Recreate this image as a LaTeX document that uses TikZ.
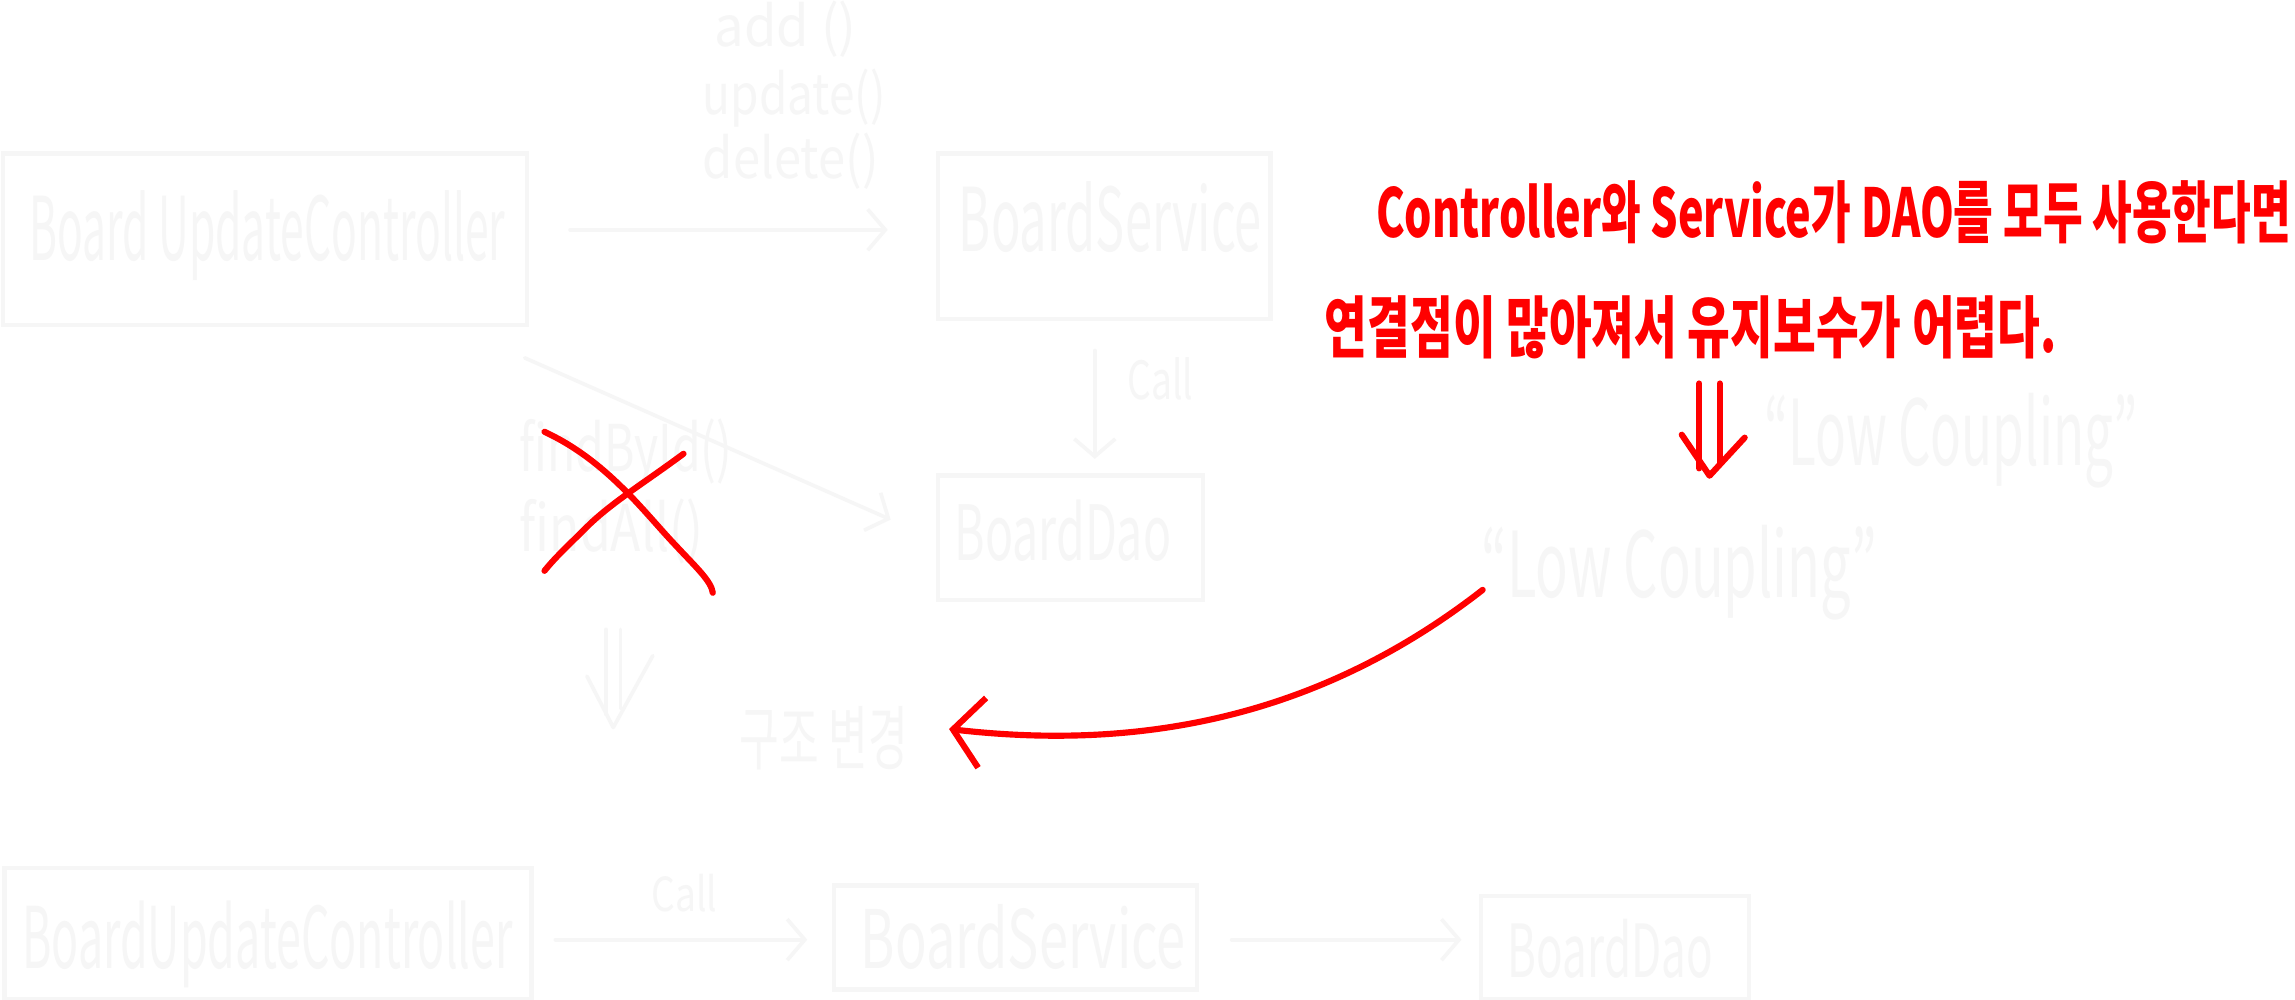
\documentclass[tikz,border=0pt]{standalone}
\usepackage{fontspec}
\setmainfont{Noto Sans CJK KR}
\usetikzlibrary{arrows.meta}
\definecolor{faint}{HTML}{F6F6F6}
\definecolor{pen}{HTML}{FF0000}
\newcommand\fw[2]{\resizebox{#1pt}{\height}{#2}}
\tikzset{
  fbox/.style={draw=faint, line width=3pt, inner sep=0pt},
  ftext/.style={text=faint, inner sep=0pt, anchor=base west},
  farrow/.style={draw=faint, line width=2.5pt, line cap=round,
    -{Straight Barb[length=12pt,width=28pt,line width=2.5pt]}},
  fline/.style={draw=faint, line width=2.5pt, line cap=round, line join=round},
  redpen/.style={draw=pen, line width=4.2pt, line cap=round, line join=round},
  redtext/.style={text=pen, inner sep=0pt, anchor=base west, font=\fontsize{46}{50}\selectfont\bfseries},
}
\begin{document}
\begin{tikzpicture}[x=1pt,y=-1pt]
\useasboundingbox[fill=white] (0,0) rectangle (1568,683);

% ---- faint upper diagram ----
\node[ftext, font=\fontsize{38}{40}\selectfont] (m1) at (488,32) {\fw{97}{add ()}};
\node[ftext, font=\fontsize{38}{40}\selectfont] (m2) at (480,78) {\fw{125}{update()}};
\node[ftext, font=\fontsize{38}{40}\selectfont] (m3) at (480,122) {\fw{120}{delete()}};

\node[fbox, minimum width=358pt, minimum height=117pt] (c1) at (181,163.5) {};
\node[ftext, font=\fontsize{60}{64}\selectfont] (c1t) at (20,178) {\fw{325}{Board UpdateController}};

\node[fbox, minimum width=227pt, minimum height=113pt] (s1) at (754.5,161.5) {};
\node[ftext, font=\fontsize{60}{64}\selectfont] (s1t) at (655,172) {\fw{207}{BoardService}};

\node[fbox, minimum width=181pt, minimum height=85pt] (d1) at (731.5,367.5) {};
\node[ftext, font=\fontsize{52}{56}\selectfont] (d1t) at (652,383) {\fw{148}{BoardDao}};

\draw[farrow] ([shift={(28,-6.5)}]c1.east) -- ([shift={(-33,-4.5)}]s1.west);
\draw[farrow] ([shift={(-6.5,20)}]s1.south) -- ([shift={(16.5,-10)}]d1.north);
\node[ftext, font=\fontsize{36}{40}\selectfont] (call1) at (770,273) {\fw{45}{Call}};
\draw[farrow] ([shift={(-3,21)}]c1.south east) -- ([shift={(-31,-12.5)}]d1.west);

\node[ftext, font=\fontsize{44}{48}\selectfont] (f1) at (355,322) {\fw{145}{findById()}};
\node[ftext, font=\fontsize{44}{48}\selectfont] (f2) at (355,377) {\fw{125}{findAll()}};

% faint double arrow
\draw[fline] (414,430) -- (414,488);
\draw[fline] (424,430) -- (424,484);
\draw[fline] (401,462) -- (419,497) -- (446,448);

\node[ftext, font=\fontsize{48}{52}\selectfont] (gj) at (505,522) {\fw{115}{구조 변경}};

\node[ftext, font=\fontsize{62}{66}\selectfont] (lc1) at (1205,318) {\fw{255}{“Low Coupling”}};
\node[ftext, font=\fontsize{62}{66}\selectfont] (lc2) at (1012,408) {\fw{270}{“Low Coupling”}};

% ---- faint lower diagram ----
\node[fbox, minimum width=360pt, minimum height=90pt] (c2) at (183,638) {};
\node[ftext, font=\fontsize{58}{62}\selectfont] (c2t) at (15,662) {\fw{335}{BoardUpdateController}};
\node[fbox, minimum width=248pt, minimum height=71pt] (s2) at (694,640.5) {};
\node[ftext, font=\fontsize{55}{60}\selectfont] (s2t) at (588,662) {\fw{222}{BoardService}};
\node[fbox, minimum width=183pt, minimum height=71pt] (d2) at (1103.5,647.5) {};
\node[ftext, font=\fontsize{50}{54}\selectfont] (d2t) at (1030,668) {\fw{140}{BoardDao}};
\draw[farrow] ([shift={(15,4)}]c2.east) -- ([shift={(-17,1.5)}]s2.west);
\node[ftext, font=\fontsize{32}{36}\selectfont] (call2) at (445,623) {\fw{45}{Call}};
\draw[farrow] ([shift={(22,1.5)}]s2.east) -- ([shift={(-12,-5.5)}]d2.west);

% ---- red annotations ----
\node[redtext] (t1) at (940,162) {\fw{625}{Controller와 Service가 DAO를 모두 사용한다면}};
\node[redtext] (t2) at (905,241) {\fw{500}{연결점이 많아져서 유지보수가 어렵다.}};

% red double arrow
\draw[redpen] (1161,262) -- (1161,320);
\draw[redpen] (1175,262) -- (1175,316);
\draw[redpen] (1149,297) -- (1168,325) -- (1192,299);

% red cross
\draw[redpen] (372,295) .. controls (415,315) and (440,350) .. (462,373)
  .. controls (475,387) and (486,397) .. (487,405);
\draw[redpen] (467,310) .. controls (440,330) and (420,342) .. (403,358)
  .. controls (390,371) and (380,380) .. (372,390);

% red curved arrow
\coordinate (ca) at (1013,403);
\draw[redpen, -{Straight Barb[length=20pt,width=48pt]}] (ca)
  .. controls (895,495) and (770,512) .. ([shift={(28,-6)}]gj.east);
\end{tikzpicture}
\end{document}
